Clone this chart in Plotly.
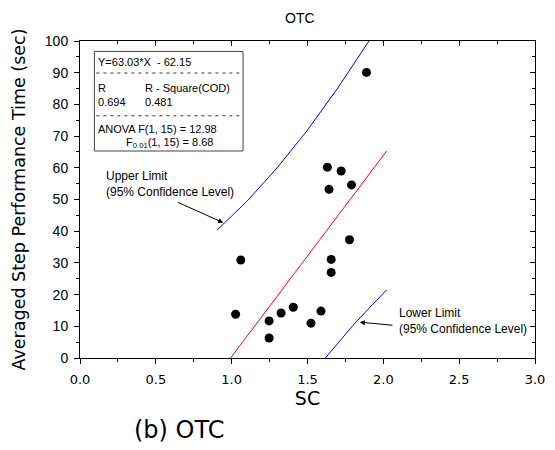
import plotly.graph_objs as go

# measured points (SC vs averaged step performance time)
sc = [1.631, 1.722, 1.790, 1.642, 1.777, 1.060, 1.656, 1.656,
      1.026, 1.247, 1.247, 1.326, 1.406, 1.523, 1.589, 1.889]
step_time = [60.2, 59.0, 54.6, 53.2, 37.3, 30.9, 31.1, 27.0,
             13.8, 11.7, 6.3, 14.2, 16.0, 11.0, 14.8, 90.1]

# regression line and 95% limits
fit_x = [0.993, 2.022]
fit_y = [0.0, 65.3]
upper_x = [0.905, 1.1, 1.3, 1.441, 1.5, 1.7, 1.905]
upper_y = [40.4, 49.4, 60.0, 68.3, 71.9, 85.2, 100.0]
lower_x = [1.618, 1.7, 1.8, 1.9, 2.022]
lower_y = [0.0, 4.8, 10.3, 15.4, 21.5]

stats_lines = [
    ("Y=63.03*X  - 62.15", 0.106, 93.3),
    ("R", 0.106, 85.2),
    ("R - Square(COD)", 0.415, 85.2),
    ("0.694", 0.106, 80.9),
    ("0.481", 0.415, 80.9),
    ("ANOVA F(1, 15) = 12.98", 0.106, 72.2),
    ("F<sub>0.01</sub>(1, 15) = 8.68", 0.289, 67.8),
]

ARIAL = "Liberation Sans, Arial, sans-serif"
DEJAVU = "DejaVu Sans, Verdana, sans-serif"

data = [
    go.Scatter(x=upper_x, y=upper_y, mode="lines", line={"color": "blue", "width": 1}),
    go.Scatter(x=lower_x, y=lower_y, mode="lines", line={"color": "blue", "width": 1}),
    go.Scatter(x=fit_x, y=fit_y, mode="lines", line={"color": "red", "width": 1}),
    go.Scatter(x=sc, y=step_time, mode="markers",
               marker={"color": "black", "size": 9}),
    # dummy trace so the mirrored (top/right) axes are drawn
    go.Scatter(x=[None], y=[None], xaxis="x2", yaxis="y2", hoverinfo="skip"),
]

annotations = [
    dict(text="OTC", xref="paper", yref="paper", x=0.4835, y=1.074, showarrow=False,
         xanchor="center", yanchor="middle",
         font={"family": ARIAL, "size": 14, "color": "black"}),
    dict(text="(b) OTC", xref="paper", yref="paper", x=0.2176, y=-0.227, showarrow=False,
         xanchor="center", yanchor="middle",
         font={"family": DEJAVU, "size": 24, "color": "black"}),
    dict(text="Upper Limit<br>(95% Confidence Level)", x=0.161, y=54.8, showarrow=False,
         xanchor="left", align="left", font={"family": ARIAL, "size": 12, "color": "black"}),
    dict(text="Lower Limit<br>(95% Confidence Level)", x=2.093, y=11.7, showarrow=False,
         xanchor="left", align="left", font={"family": ARIAL, "size": 12, "color": "black"}),
    dict(text=" ", x=0.944, y=42.7, ax=0.636, ay=49.3, axref="x", ayref="y",
         font={"size": 1}, showarrow=True, arrowhead=2, arrowsize=1, arrowwidth=1,
         arrowcolor="black"),
    dict(text=" ", x=1.845, y=11.3, ax=2.070, ay=10.3, axref="x", ayref="y",
         font={"size": 1}, showarrow=True, arrowhead=2, arrowsize=1, arrowwidth=1,
         arrowcolor="black"),
]
for txt, x, y in stats_lines:
    annotations.append(dict(text=txt, x=x, y=y, showarrow=False, xanchor="left",
                            font={"family": ARIAL, "size": 11, "color": "black"}))

shapes = [
    dict(type="rect", x0=0.095, x1=1.075, y0=65.3, y1=96.7,
         line={"color": "#444", "width": 1}),
    dict(type="line", x0=0.108, x1=1.058, y0=89.9, y1=89.9,
         line={"color": "#333", "width": 1, "dash": "3px,4px"}),
    dict(type="line", x0=0.108, x1=1.058, y0=76.4, y1=76.4,
         line={"color": "#333", "width": 1, "dash": "3px,4px"}),
]

axis_common = dict(showgrid=False, zeroline=False, showline=True, linecolor="black",
                   linewidth=1, tickcolor="black", automargin=False)

# page body adds an 8px offset, so the figure is a bit smaller than the window
layout = go.Layout(
    width=547, height=442,
    margin=dict(l=72, r=20, t=33, b=92),
    paper_bgcolor="white", plot_bgcolor="white",
    showlegend=False,
    xaxis=dict(range=[0, 3], dtick=0.5, tickformat=".1f", ticks="outside", ticklen=5,
               ticklabelstandoff=4,
               minor=dict(dtick=0.25, ticks="outside", ticklen=3, tickcolor="black"),
               tickfont={"family": DEJAVU, "size": 13, "color": "black"},
               title=dict(text="SC", font={"family": DEJAVU, "size": 19, "color": "black"},
                          standoff=5),
               **axis_common),
    yaxis=dict(range=[0, 100], dtick=10, ticks="outside", ticklen=5,
               ticklabelstandoff=3,
               minor=dict(dtick=5, ticks="outside", ticklen=3, tickcolor="black"),
               tickfont={"family": ARIAL, "size": 14, "color": "black"},
               title=dict(text="Averaged Step Performance Time (sec)",
                          font={"family": DEJAVU, "size": 17.5, "color": "black"},
                          standoff=14),
               **axis_common),
    xaxis2=dict(range=[0, 3], dtick=0.5, overlaying="x", side="top", anchor="y2",
                ticks="inside", ticklen=5, showticklabels=False,
                minor=dict(dtick=0.25, ticks="inside", ticklen=3, tickcolor="black"),
                **axis_common),
    yaxis2=dict(range=[0, 100], dtick=10, overlaying="y", side="right", anchor="x2",
                ticks="inside", ticklen=5, showticklabels=False,
                minor=dict(dtick=5, ticks="inside", ticklen=3, tickcolor="black"),
                **axis_common),
    annotations=annotations,
    shapes=shapes,
)

fig = go.Figure(data=data, layout=layout)
fig.write_html("out.html")
